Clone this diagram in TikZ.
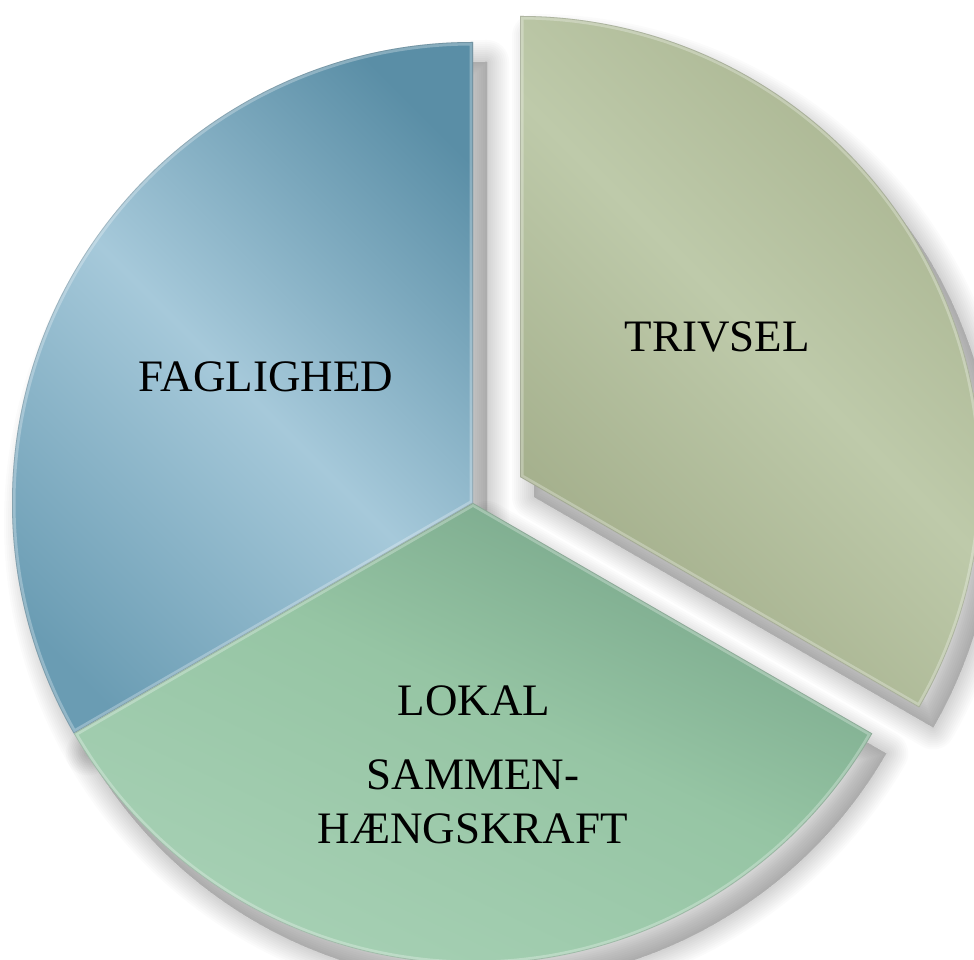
\documentclass[tikz,border=0pt]{standalone}
\usepackage{fontspec}
\setmainfont{Liberation Serif}
\definecolor{bA}{RGB}{106,156,179}
\definecolor{bM}{RGB}{166,201,218}
\definecolor{bB}{RGB}{90,142,166}
\definecolor{tA}{RGB}{158,169,133}
\definecolor{tM}{RGB}{190,202,170}
\definecolor{tB}{RGB}{163,174,137}
\definecolor{gA}{RGB}{166,208,180}
\definecolor{gM}{RGB}{150,197,164}
\definecolor{gB}{RGB}{120,166,138}
\pgfdeclareverticalshading{blueshade}{100bp}{color(0bp)=(bA); color(22bp)=(bA); color(50bp)=(bM); color(78bp)=(bB); color(100bp)=(bB)}
\pgfdeclareverticalshading{trivshade}{100bp}{color(0bp)=(tA); color(22bp)=(tA); color(50bp)=(tM); color(78bp)=(tB); color(100bp)=(tB)}
\pgfdeclareverticalshading{greenshade}{100bp}{color(0bp)=(gA); color(30bp)=(gA); color(55bp)=(gM); color(75bp)=(gB); color(100bp)=(gB)}
\begin{document}
\begin{tikzpicture}[x=1pt,y=1pt,
  bluep/.style={insert path={(473,457) -- ++(90:461) arc[start angle=90,end angle=210,radius=461] -- cycle}},
  greenp/.style={insert path={(473,457) -- ++(210:461) arc[start angle=210,end angle=330,radius=461] -- cycle}},
  trivp/.style={insert path={(520,483) -- ++(-30:461) arc[start angle=-30,end angle=90,radius=461] -- cycle}},
  shad/.style={fill=black,draw=black,fill opacity=0.014,draw opacity=0.014,line join=round},
  bevel/.style={draw=white,draw opacity=0.28,line width=7,line join=round},
  rim/.style={draw=black,draw opacity=0.14,line width=1.6,line join=round},
  lbl/.style={font=\fontsize{45}{48}\selectfont,text=black,anchor=base,inner sep=0}]
\useasboundingbox (0,0) rectangle (974,960);
\clip (0,0) rectangle (974,960);
\fill[white] (0,0) rectangle (974,960);
% shadows
\foreach \w in {44,40,36,32,28,24,20,16,12,8,4}{
  \path[shad,line width=\w,shift={(14,-20)},trivp];
  \path[shad,line width=\w,shift={(14,-20)},bluep];
  \path[shad,line width=\w,shift={(14,-20)},greenp];
}
% slices
\path[bluep,shading=blueshade,shading angle=-45] node (blue) {};
\begin{scope}
  \clip[bluep];
  \path[bluep,bevel];
  \path[bluep,rim];
\end{scope}
\path[trivp,shading=trivshade,shading angle=-45] node (triv) {};
\begin{scope}
  \clip[trivp];
  \path[trivp,bevel];
  \path[trivp,rim];
\end{scope}
\path[greenp,shading=greenshade,shading angle=-25] node (green) {};
\begin{scope}
  \clip[greenp];
  \path[greenp,bevel];
  \path[greenp,rim];
\end{scope}
% labels
\node[lbl] (fag) at (266,568) {FAGLIGHED};
\node[lbl] (tri) at (717,608) {TRIVSEL};
\node[lbl] (lok) at (474,244) {LOKAL};
\node[lbl] (sam) at (473,170) {SAMMEN-};
\node[lbl] (hae) at (473,116) {HÆNGSKRAFT};
\end{tikzpicture}
\end{document}
